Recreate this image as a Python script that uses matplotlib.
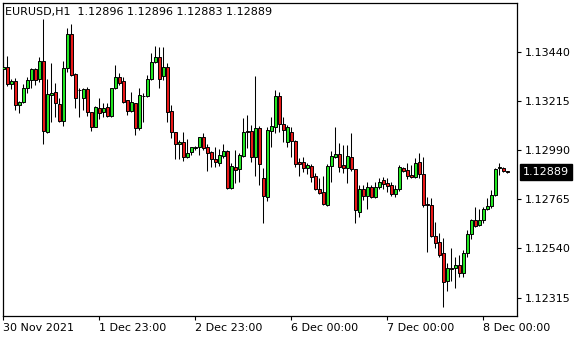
import numpy as np
import matplotlib.pyplot as plt
import matplotlib.transforms as mtransforms

# EURUSD H1 bars, oldest first
opens = [1.13361, 1.13369, 1.13291, 1.13306, 1.13196, 1.13210, 1.13274, 1.13310, 1.13361, 1.13315,
         1.13397, 1.13074, 1.13243, 1.13254, 1.13199, 1.13125, 1.13364, 1.13520, 1.13337, 1.13267,
         1.13227, 1.13269, 1.13163, 1.13097, 1.13181, 1.13166, 1.13186, 1.13146, 1.13273, 1.13323,
         1.13307, 1.13218, 1.13170, 1.13204, 1.13090, 1.13237, 1.13237, 1.13315, 1.13391, 1.13414,
         1.13330, 1.13369, 1.13169, 1.13071, 1.13017, 1.13028, 1.12957, 1.12980, 1.13000, 1.13003,
         1.13049, 1.13003, 1.12980, 1.12948, 1.12930, 1.12964, 1.12986, 1.12818, 1.12914, 1.12902,
         1.12964, 1.13077, 1.13077, 1.12957, 1.13090, 1.12861, 1.12777, 1.13079, 1.13097, 1.13237,
         1.13109, 1.13026, 1.13074, 1.13033, 1.12937, 1.12934, 1.12906, 1.12917, 1.12872, 1.12811,
         1.12797, 1.12739, 1.12919, 1.12960, 1.12972, 1.12922, 1.12906, 1.12957, 1.12902, 1.12708,
         1.12811, 1.12780, 1.12820, 1.12777, 1.12820, 1.12853, 1.12841, 1.12830, 1.12789, 1.12814,
         1.12906, 1.12899, 1.12876, 1.12866, 1.12934, 1.12881, 1.12744, 1.12739, 1.12597, 1.12568,
         1.12518, 1.12393, 1.12449, 1.12449, 1.12465, 1.12429, 1.12521, 1.12606, 1.12670, 1.12648,
         1.12670, 1.12719, 1.12734, 1.12785, 1.12907, 1.12910, 1.12896]
highs = [1.13393, 1.13420, 1.13315, 1.13321, 1.13214, 1.13292, 1.13325, 1.13367, 1.13367, 1.13416,
         1.13589, 1.13315, 1.13387, 1.13295, 1.13228, 1.13397, 1.13550, 1.13566, 1.13344, 1.13274,
         1.13273, 1.13279, 1.13166, 1.13192, 1.13227, 1.13204, 1.13207, 1.13274, 1.13379, 1.13341,
         1.13325, 1.13219, 1.13254, 1.13205, 1.13274, 1.13250, 1.13333, 1.13432, 1.13467, 1.13462,
         1.13462, 1.13388, 1.13196, 1.13073, 1.13036, 1.13071, 1.13041, 1.13006, 1.13009, 1.13051,
         1.13067, 1.13018, 1.12987, 1.13003, 1.12994, 1.13017, 1.12990, 1.12932, 1.12990, 1.12975,
         1.13135, 1.13150, 1.13105, 1.13329, 1.13100, 1.12908, 1.13097, 1.13143, 1.13265, 1.13257,
         1.13143, 1.13105, 1.13094, 1.13036, 1.12952, 1.12957, 1.12930, 1.12926, 1.12884, 1.12861,
         1.12873, 1.12925, 1.12987, 1.13097, 1.13021, 1.13013, 1.13013, 1.13067, 1.12904, 1.12830,
         1.12830, 1.12845, 1.12830, 1.12845, 1.12861, 1.12868, 1.12861, 1.12845, 1.12830, 1.12922,
         1.12914, 1.12930, 1.12922, 1.12952, 1.12975, 1.12960, 1.12774, 1.12770, 1.12663, 1.12610,
         1.12587, 1.12472, 1.12541, 1.12502, 1.12510, 1.12533, 1.12625, 1.12675, 1.12728, 1.12719,
         1.12728, 1.12770, 1.12808, 1.12907, 1.12932, 1.12914, 1.12896]
lows = [1.13324, 1.13283, 1.13269, 1.13173, 1.13160, 1.13205, 1.13251, 1.13275, 1.13287, 1.13301,
        1.13018, 1.13068, 1.13120, 1.13143, 1.13118, 1.13100, 1.13348, 1.13329, 1.13183, 1.13141,
        1.13173, 1.13146, 1.13079, 1.13096, 1.13132, 1.13143, 1.13140, 1.13141, 1.13268, 1.13287,
        1.13205, 1.13150, 1.13166, 1.13059, 1.13082, 1.13120, 1.13233, 1.13310, 1.13387, 1.13273,
        1.13310, 1.13120, 1.13044, 1.12948, 1.12948, 1.12942, 1.12956, 1.12968, 1.12990, 1.12968,
        1.12990, 1.12896, 1.12914, 1.12914, 1.12917, 1.12952, 1.12812, 1.12811, 1.12841, 1.12845,
        1.12960, 1.13001, 1.12937, 1.12872, 1.12830, 1.12658, 1.12759, 1.13003, 1.13070, 1.13074,
        1.13028, 1.13006, 1.12957, 1.12914, 1.12872, 1.12891, 1.12879, 1.12845, 1.12808, 1.12789,
        1.12739, 1.12734, 1.12843, 1.12952, 1.12890, 1.12887, 1.12841, 1.12894, 1.12658, 1.12685,
        1.12762, 1.12719, 1.12770, 1.12770, 1.12811, 1.12811, 1.12800, 1.12780, 1.12777, 1.12804,
        1.12891, 1.12856, 1.12861, 1.12861, 1.12861, 1.12731, 1.12525, 1.12593, 1.12541, 1.12500,
        1.12271, 1.12347, 1.12393, 1.12358, 1.12411, 1.12411, 1.12502, 1.12582, 1.12640, 1.12643,
        1.12655, 1.12716, 1.12724, 1.12780, 1.12876, 1.12889, 1.12883]
closes = [1.13370, 1.13291, 1.13306, 1.13196, 1.13210, 1.13274, 1.13310, 1.13361, 1.13310, 1.13397,
          1.13075, 1.13245, 1.13250, 1.13204, 1.13123, 1.13364, 1.13521, 1.13333, 1.13226, 1.13263,
          1.13269, 1.13162, 1.13097, 1.13186, 1.13158, 1.13181, 1.13146, 1.13273, 1.13323, 1.13298,
          1.13211, 1.13170, 1.13209, 1.13090, 1.13242, 1.13238, 1.13314, 1.13391, 1.13414, 1.13315,
          1.13369, 1.13163, 1.13071, 1.13017, 1.13028, 1.12960, 1.12975, 1.13003, 1.13002, 1.13049,
          1.12998, 1.12978, 1.12948, 1.12934, 1.12968, 1.12986, 1.12818, 1.12917, 1.12899, 1.12968,
          1.13071, 1.13071, 1.12957, 1.13090, 1.12925, 1.12780, 1.13082, 1.13100, 1.13237, 1.13109,
          1.13082, 1.13094, 1.13033, 1.12926, 1.12925, 1.12906, 1.12922, 1.12868, 1.12811, 1.12795,
          1.12742, 1.12919, 1.12964, 1.12972, 1.12914, 1.12906, 1.12963, 1.12902, 1.12716, 1.12811,
          1.12780, 1.12820, 1.12777, 1.12820, 1.12843, 1.12834, 1.12826, 1.12788, 1.12811, 1.12911,
          1.12896, 1.12873, 1.12866, 1.12932, 1.12881, 1.12739, 1.12740, 1.12599, 1.12567, 1.12510,
          1.12388, 1.12449, 1.12445, 1.12465, 1.12429, 1.12518, 1.12606, 1.12670, 1.12643, 1.12670,
          1.12721, 1.12734, 1.12785, 1.12904, 1.12911, 1.12896, 1.12889]

x_tick_pos = [0, 24, 48, 72, 96, 120]
x_tick_labels = ['30 Nov 2021', '1 Dec 23:00', '2 Dec 23:00', '6 Dec 00:00', '7 Dec 00:00', '8 Dec 00:00']
y_ticks = [1.12315, 1.12540, 1.12765, 1.12990, 1.13215, 1.13440]
title = 'EURUSD,H1  1.12896 1.12896 1.12883 1.12889'
last_price = 1.12889

bull = '#22E622'
bear = '#E81818'

o = np.array(opens)
h = np.array(highs)
l = np.array(lows)
c = np.array(closes)
x = np.arange(len(o))

fig = plt.figure(figsize=(5.8, 3.4), dpi=100)
ax = fig.add_axes([0.0047, 0.0706, 0.8862, 0.9215])

# wicks
ax.vlines(x, l, h, color='black', linewidth=0.75, zorder=2)

# bodies
colors = [bull if cc >= oo else bear for oo, cc in zip(o, c)]
bottoms = np.minimum(o, c)
heights = np.abs(c - o)
ax.bar(x, heights, width=0.64, bottom=bottoms, color=colors,
       edgecolor='black', linewidth=0.7, zorder=3)

ax.set_xlim(-0.16, 128.33)
ax.set_ylim(1.122313, 1.136640)

ax.set_xticks(x_tick_pos)
ax.set_xticklabels(x_tick_labels, fontsize=8, ha='left')
ax.yaxis.tick_right()
ax.set_yticks(y_ticks)
ax.set_yticklabels([f'{v:.5f}' for v in y_ticks], fontsize=8)
ax.tick_params(axis='both', direction='out', length=3, width=0.8, colors='black')
ax.tick_params(axis='x', pad=2)
ax.tick_params(axis='y', pad=3)
for sp in ax.spines.values():
    sp.set_linewidth(0.9)
    sp.set_color('black')

ax.text(0.005, 0.985, title, transform=ax.transAxes, fontsize=8,
        ha='left', va='top', color='black')

trans = mtransforms.blended_transform_factory(ax.transAxes, ax.transData)
ax.text(1.012, last_price, f'{last_price:.5f}', transform=trans, fontsize=8,
        color='white', ha='left', va='center',
        bbox=dict(facecolor='black', edgecolor='black', pad=2.0))

fig.savefig('out.png', dpi=100, facecolor='white')
